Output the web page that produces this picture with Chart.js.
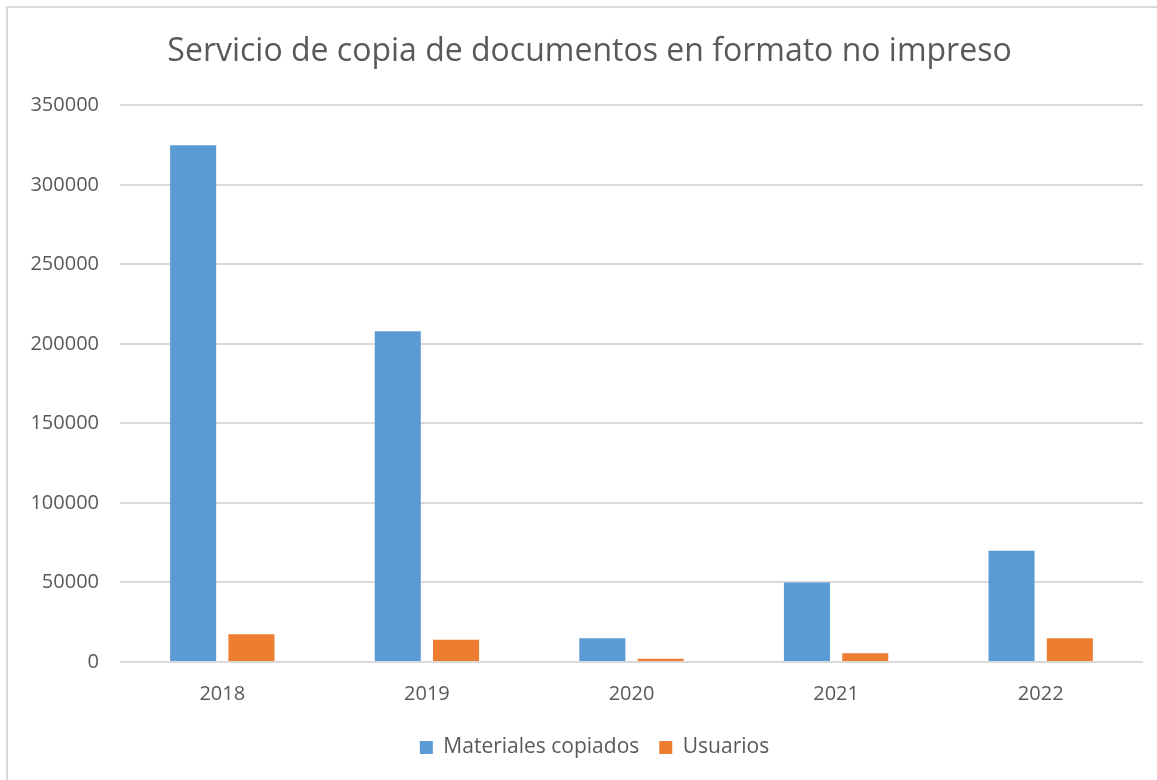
<!DOCTYPE html>
<html>
<head>
<meta charset="utf-8">
<script src="https://cdn.jsdelivr.net/npm/chart.js@4.4.1/dist/chart.umd.min.js"></script>
<style>
    html, body { margin: 0; padding: 0; background: #fff; overflow: hidden; }
    #wrap { position: relative; width: 1157px; height: 780px; }
    #frame {
        position: absolute; left: 6px; top: 6px; width: 1200px; height: 800px;
        border: 2px solid #d9d9d9; pointer-events: none;
    }
</style>
</head>
<body>
<div id="wrap">
    <canvas id="copyChart" width="1157" height="780"></canvas>
    <div id="frame"></div>
</div>
<script>
// DATA
const years = ["2018", "2019", "2020", "2021", "2022"];
const materialesCopiados = [325000, 208000, 15000, 50000, 70000];
const usuarios = [17500, 14000, 2000, 5500, 15000];
const yMax = 350000;
const yStep = 50000;

const TEXT_GRAY = "#595959";
Chart.defaults.font.family = "'Open Sans', 'Noto Sans', sans-serif";
Chart.defaults.color = TEXT_GRAY;

// the original centres title and legend on a wider frame, nudge them right
const shiftBoxes = {
    id: "shiftBoxes",
    afterLayout(chart) {
        if (chart.titleBlock) { chart.titleBlock.left += 18; chart.titleBlock.right += 18; }
        if (chart.legend) { chart.legend.left += 23; chart.legend.right += 23; }
    }
};

const ctx = document.getElementById("copyChart").getContext("2d");

new Chart(ctx, {
    type: "bar",
    data: {
        labels: years,
        datasets: [
            {
                label: "Materiales copiados",
                data: materialesCopiados,
                backgroundColor: "#5B9BD5",
                categoryPercentage: 0.57,
                barPercentage: 0.79
            },
            {
                label: "Usuarios",
                data: usuarios,
                backgroundColor: "#ED7D31",
                categoryPercentage: 0.57,
                barPercentage: 0.79
            }
        ]
    },
    options: {
        responsive: false,
        animation: false,
        layout: { padding: { left: 0, right: 14, top: 0, bottom: 12 } },
        plugins: {
            title: {
                display: true,
                text: "Servicio de copia de documentos en formato no impreso",
                color: TEXT_GRAY,
                font: { size: 32, weight: "normal" },
                padding: { top: 33, bottom: 34 }
            },
            legend: {
                position: "bottom",
                labels: {
                    color: TEXT_GRAY,
                    font: { size: 21 },
                    boxWidth: 13,
                    boxHeight: 13,
                    padding: 20
                }
            },
            tooltip: { enabled: false }
        },
        scales: {
            x: {
                grid: { display: false },
                border: { display: false },
                ticks: { font: { size: 20 }, color: TEXT_GRAY, padding: 12 },
                afterFit: (scale) => { scale.height = 55; }
            },
            y: {
                min: 0,
                max: yMax,
                ticks: {
                    stepSize: yStep,
                    font: { size: 20 },
                    color: TEXT_GRAY,
                    padding: 21,
                    callback: (v) => String(v)
                },
                grid: { color: "#d9d9d9", lineWidth: 2, drawTicks: false },
                border: { display: false },
                afterFit: (scale) => { scale.width = 120; }
            }
        }
    },
    plugins: [shiftBoxes]
});
</script>
</body>
</html>
